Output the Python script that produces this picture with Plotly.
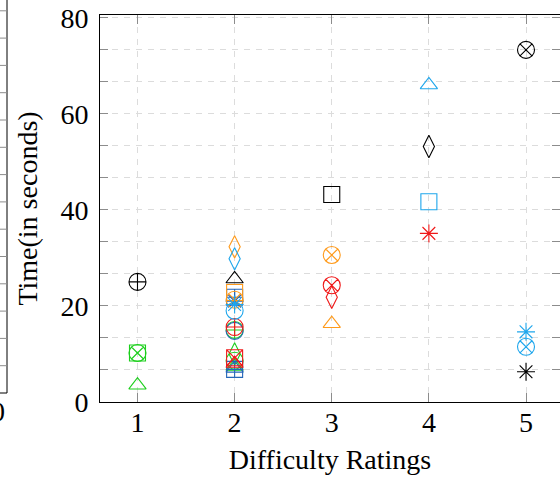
import plotly.graph_objects as go

# ---- data (difficulty rating, time in seconds) ----
x_ticks = [1, 2, 3, 4, 5]
y_ticks = [0, 20, 40, 60, 80]

black_cplus_x = [1];       black_cplus_y = [25.0]
black_tri_x = [2];         black_tri_y = [25.6]
black_sq_x = [3];          black_sq_y = [43.2]
black_dia_x = [4];         black_dia_y = [53.2]
black_cx_x = [5];          black_cx_y = [73.3]
black_star_x = [5];        black_star_y = [6.3]

green_sq_x = [1];          green_sq_y = [10.2]
green_cx_x = [1];          green_cx_y = [10.2]
green_tri_x = [1, 2];      green_tri_y = [3.5, 7.4]
green_dia_x = [2];         green_dia_y = [10.0]
green_circ_x = [2];        green_circ_y = [8.6]
green_cplus_x = [2];       green_cplus_y = [15.0]

red_cplus_x = [2];         red_cplus_y = [15.6]
red_sqx_x = [2];           red_sqx_y = [9.2]
red_tri_x = [2];           red_tri_y = [8.0]
red_cx_x = [3];            red_cx_y = [24.3]
red_dia_x = [3];           red_dia_y = [21.8]
red_star_x = [4];          red_star_y = [35.1]

orange_dia_x = [2];        orange_dia_y = [32.3]
orange_sq_x = [2];         orange_sq_y = [22.8]
orange_cx_x = [2, 3];      orange_cx_y = [21.3, 30.6]
orange_tri_x = [3];        orange_tri_y = [16.3]

cyan_dia_x = [2];          cyan_dia_y = [29.8]
cyan_circ_x = [2];         cyan_circ_y = [19.0]
cyan_star_x = [2, 5];      cyan_star_y = [20.3, 14.6]
cyan_tri_x = [4];          cyan_tri_y = [66.0]
cyan_sq_x = [4];           cyan_sq_y = [41.7]
cyan_cx_x = [5];           cyan_cx_y = [11.5]

blue_sqplus_x = [2, 2];    blue_sqplus_y = [21.8, 6.8]
blue_star_x = [2];         blue_star_y = [21.0]
blue_circ_x = [2];         blue_circ_y = [14.8]
blue_tri_x = [2];          blue_tri_y = [7.0]

# ---- styles ----
COL = {"black": "#000000", "green": "#1ccf1c", "red": "#f01818",
       "orange": "#ff9a1a", "cyan": "#1ea6ec", "blue": "#2466b8"}
SYM = {"cplus": ("circle-cross-open", 17), "cx": ("circle-x-open", 17),
       "sq": ("square-open", 16), "sqx": ("square-x-open", 16),
       "sqplus": ("square-cross-open", 16), "tri": ("triangle-up-open", 15),
       "dia": ("diamond-tall-open", 16), "circ": ("circle-open", 17),
       "star": ("asterisk-open", 15)}

series = [
    ("black", "cplus", black_cplus_x, black_cplus_y),
    ("black", "tri", black_tri_x, black_tri_y),
    ("black", "sq", black_sq_x, black_sq_y),
    ("black", "dia", black_dia_x, black_dia_y),
    ("black", "cx", black_cx_x, black_cx_y),
    ("black", "star", black_star_x, black_star_y),
    ("green", "sq", green_sq_x, green_sq_y),
    ("green", "cx", green_cx_x, green_cx_y),
    ("green", "tri", green_tri_x, green_tri_y),
    ("green", "dia", green_dia_x, green_dia_y),
    ("green", "circ", green_circ_x, green_circ_y),
    ("green", "cplus", green_cplus_x, green_cplus_y),
    ("blue", "sqplus", blue_sqplus_x, blue_sqplus_y),
    ("blue", "star", blue_star_x, blue_star_y),
    ("blue", "circ", blue_circ_x, blue_circ_y),
    ("blue", "tri", blue_tri_x, blue_tri_y),
    ("red", "cplus", red_cplus_x, red_cplus_y),
    ("red", "sqx", red_sqx_x, red_sqx_y),
    ("red", "tri", red_tri_x, red_tri_y),
    ("red", "cx", red_cx_x, red_cx_y),
    ("red", "dia", red_dia_x, red_dia_y),
    ("red", "star", red_star_x, red_star_y),
    ("orange", "dia", orange_dia_x, orange_dia_y),
    ("orange", "sq", orange_sq_x, orange_sq_y),
    ("orange", "cx", orange_cx_x, orange_cx_y),
    ("orange", "tri", orange_tri_x, orange_tri_y),
    ("cyan", "dia", cyan_dia_x, cyan_dia_y),
    ("cyan", "circ", cyan_circ_x, cyan_circ_y),
    ("cyan", "star", cyan_star_x, cyan_star_y),
    ("cyan", "tri", cyan_tri_x, cyan_tri_y),
    ("cyan", "sq", cyan_sq_x, cyan_sq_y),
    ("cyan", "cx", cyan_cx_x, cyan_cx_y),
]

fig = go.Figure()
for color, kind, xs, ys in series:
    sym, size = SYM[kind]
    fig.add_trace(go.Scatter(
        x=xs, y=ys, mode="markers", showlegend=False, cliponaxis=False,
        marker=dict(symbol=sym, size=size, color=COL[color],
                    line=dict(color=COL[color], width=1.1))))

FONT = "Liberation Serif"
FS = 28
GRID = "#dcdcdc"
TICK = "#8c8c8c"

fig.update_layout(
    width=560, height=477,
    margin=dict(l=100, r=0, t=15, b=75),
    paper_bgcolor="white", plot_bgcolor="white",
    font=dict(family=FONT, size=FS, color="black"),
    xaxis=dict(
        range=[0.614, 5.35], tickvals=x_ticks, ticktext=[str(v) for v in x_ticks],
        showline=True, linecolor="black", linewidth=1, mirror="ticks",
        ticks="inside", ticklen=9, tickcolor=TICK, tickwidth=1,
        ticklabelstandoff=-5,
        showgrid=True, gridcolor=GRID, griddash="6px,6px", gridwidth=1,
        zeroline=False,
        title=dict(text="Difficulty Ratings", standoff=12, font=dict(size=FS)),
    ),
    yaxis=dict(
        range=[0, 80.56], tickvals=y_ticks, ticktext=[str(v) for v in y_ticks],
        showline=True, linecolor="black", linewidth=1, mirror="ticks",
        ticks="inside", ticklen=8, tickcolor=TICK, tickwidth=1,
        ticklabelstandoff=5,
        showgrid=True, gridcolor=GRID, griddash="6px,6px", gridwidth=1,
        minor=dict(dtick=20 / 3, tick0=0, ticks="inside", ticklen=8,
                   tickcolor=TICK, showgrid=True, gridcolor=GRID,
                   griddash="6px,6px", gridwidth=1),
        zeroline=False,
        title=dict(text="Time(in seconds)", standoff=14, font=dict(size=FS)),
    ),
)

# cropped edge of the neighbouring panel on the far left
pw, ph = 460.0, 387.0
def px(v):
    return (v - 100.0) / pw
def py(v):
    return (402.0 - v) / ph
edge_x = 7
fig.add_shape(type="line", xref="paper", yref="paper",
              x0=px(edge_x), x1=px(edge_x), y0=py(393), y1=py(-5),
              line=dict(color="black", width=1))
fig.add_shape(type="line", xref="paper", yref="paper",
              x0=px(-10), x1=px(edge_x), y0=py(393), y1=py(393),
              line=dict(color="black", width=1))
k = 1
while 393 - 27.3 * k > 0:
    yy = 393 - 27.3 * k
    fig.add_shape(type="line", xref="paper", yref="paper",
                  x0=px(0), x1=px(edge_x), y0=py(yy), y1=py(yy),
                  line=dict(color=TICK, width=1))
    k += 1
fig.add_annotation(xref="paper", yref="paper", x=px(-2), y=py(411),
                   xanchor="center", yanchor="middle",
                   text="0", showarrow=False, font=dict(size=FS, family=FONT))

fig.write_html("out.html")
